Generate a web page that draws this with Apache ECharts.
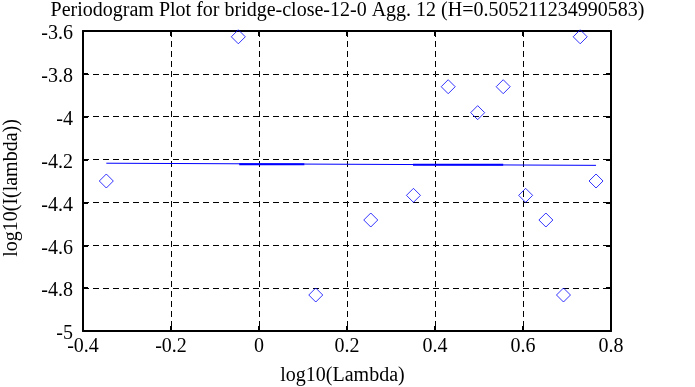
<!DOCTYPE html>
<html>
<head>
<meta charset="utf-8">
<script src="https://cdn.jsdelivr.net/npm/echarts@6/dist/echarts.min.js"></script>
<style>
html,body{margin:0;padding:0;background:#fff;}
#chart{width:695px;height:387px;}
</style>
</head>
<body>
<div id="chart"></div>
<script>
var titleText = 'Periodogram Plot for bridge-close-12-0 Agg. 12 (H=0.505211234990583)';
var xName = 'log10(Lambda)';
var yName = 'log10(I(lambda))';
var xTickLabels = ['-0.4','-0.2','0','0.2','0.4','0.6','0.8'];
var yTickLabels = ['-5','-4.8','-4.6','-4.4','-4.2','-4','-3.8','-3.6'];
var lambdaX = [-0.347,-0.047,0.129,0.254,0.351,0.430,0.497,0.555,0.606,0.652,0.692,0.730,0.766];
var periodY = [-4.30,-3.627,-4.832,-4.482,-4.367,-3.86,-3.981,-3.86,-4.367,-4.482,-4.832,-3.627,-4.30];
var fitX = [-0.347, 0.766];
var fitY = [-4.217, -4.227];
var seg1X = [-0.045, 0.103];
var seg1Y = [-4.222, -4.222];
var seg2X = [0.350, 0.555];
var seg2Y = [-4.224, -4.224];

function pairs(xs, ys){ return xs.map(function(x,i){ return [x, ys[i]]; }); }
function labelFor(arr, min, step){
  return function(v){ var i = Math.round((v - min)/step); return arr[i] !== undefined ? arr[i] : ''; };
}
var font = 'Liberation Serif, Times New Roman, serif';
var chart = echarts.init(document.getElementById('chart'), null, {renderer:'canvas'});
var dashed = {show:true, lineStyle:{color:'#000', type:[6,4], width:1}};
var baseX = {type:'value', min:-0.4, max:0.8, interval:0.2};
var baseY = {type:'value', min:-5, max:-3.6, interval:0.2};
chart.setOption({
  animation:false,
  backgroundColor:'#fff',
  title:{text:titleText, left:'center', top:1, padding:0,
    textStyle:{fontFamily:font, fontSize:20, fontWeight:'normal', color:'#000'}},
  grid:{left:83, right:84, top:31, bottom:56, containLabel:false, outerBoundsMode:'none'},
  xAxis:[
    Object.assign({}, baseX, {position:'bottom', name:xName, nameLocation:'middle', nameGap:35,
      nameTextStyle:{fontFamily:font, fontSize:20, color:'#000', padding:[0,9,0,0]},
      axisLine:{show:true, onZero:false, lineStyle:{color:'#000', width:2}},
      axisTick:{show:true, inside:true, length:5, lineStyle:{color:'#000', width:2}},
      axisLabel:{fontFamily:font, fontSize:20, color:'#000', margin:6,
        formatter:labelFor(xTickLabels, -0.4, 0.2)},
      splitLine:dashed}),
    Object.assign({}, baseX, {position:'top',
      axisLine:{show:true, onZero:false, lineStyle:{color:'#000', width:2}},
      axisTick:{show:true, inside:true, length:5, lineStyle:{color:'#000', width:2}},
      axisLabel:{show:false}, splitLine:{show:false}})
  ],
  yAxis:[
    Object.assign({}, baseY, {position:'left', name:yName, nameLocation:'middle', nameGap:61,
      nameTextStyle:{fontFamily:font, fontSize:20, color:'#000', padding:[0,14,0,0]},
      axisLine:{show:true, onZero:false, lineStyle:{color:'#000', width:2}},
      axisTick:{show:true, inside:true, length:5, lineStyle:{color:'#000', width:2}},
      axisLabel:{fontFamily:font, fontSize:20, color:'#000', margin:10,
        verticalAlign:'top', lineHeight:6,
        formatter:labelFor(yTickLabels, -5, 0.2)},
      splitLine:dashed}),
    Object.assign({}, baseY, {position:'right',
      axisLine:{show:true, onZero:false, lineStyle:{color:'#000', width:2}},
      axisTick:{show:true, inside:true, length:5, lineStyle:{color:'#000', width:2}},
      axisLabel:{show:false}, splitLine:{show:false}})
  ],
  series:[
    {type:'line', data:pairs(fitX, fitY), symbol:'none', lineStyle:{color:'#0000ff', width:1}},
    {type:'line', data:pairs(seg1X, seg1Y), symbol:'none', lineStyle:{color:'#0000ff', width:2}},
    {type:'line', data:pairs(seg2X, seg2Y), symbol:'none', lineStyle:{color:'#0000ff', width:2}},
    {type:'scatter', data:pairs(lambdaX, periodY), symbol:'diamond', symbolSize:14,
      itemStyle:{color:'rgba(0,0,0,0)', borderColor:'#0000ff', borderWidth:1}}
  ]
});
</script>
</body>
</html>
